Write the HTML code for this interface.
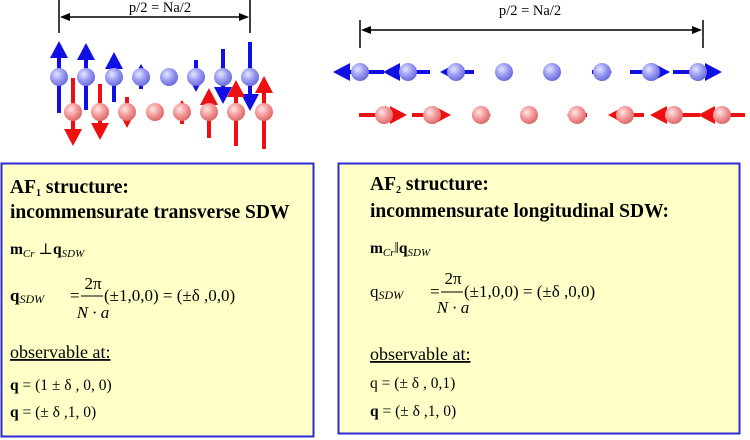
<!DOCTYPE html>
<html><head><meta charset="utf-8"><style>
html,body{margin:0;padding:0;background:#fff}
svg{display:block}
text{font-family:"Liberation Serif","DejaVu Serif",serif;fill:#000}
.t{font-weight:bold;font-size:19.5px}
</style></head><body>
<svg width="750" height="440" viewBox="0 0 750 440" xmlns="http://www.w3.org/2000/svg">
<defs>
<radialGradient id="gb" cx="0.38" cy="0.35" r="0.7"><stop offset="0" stop-color="#e6e6ff"/><stop offset="0.5" stop-color="#9a9cf2"/><stop offset="1" stop-color="#6466d8"/></radialGradient>
<radialGradient id="gr" cx="0.38" cy="0.35" r="0.7"><stop offset="0" stop-color="#ffe6e6"/><stop offset="0.5" stop-color="#f49a9a"/><stop offset="1" stop-color="#d86464"/></radialGradient>
</defs>
<g stroke="#000" stroke-width="1.5" fill="none">
<line x1="59" y1="0" x2="59" y2="33"/><line x1="250" y1="0" x2="250" y2="33"/>
<line x1="62" y1="17" x2="247" y2="17"/>
<line x1="360" y1="20" x2="360" y2="48"/><line x1="703" y1="20" x2="703" y2="48"/>
<line x1="363" y1="30" x2="700" y2="30"/>
</g>
<path d="M60,17l10,-4v8z M249,17l-10,-4v8z M361,30l10,-4v8z M702,30l-10,-4v8z" fill="#000"/>
<rect x="115" y="0" width="90" height="14" fill="#fff"/>
<text x="160" y="12" font-size="14.5" text-anchor="middle">p/2 = Na/2</text>
<text x="530" y="15" font-size="14.5" text-anchor="middle">p/2 = Na/2</text>
<g id="arrows"></g>
<rect x="1.5" y="163.5" width="312" height="273" fill="#ffffc8" stroke="#2b2bd6" stroke-width="2"/>
<rect x="338.5" y="163.5" width="401" height="270" fill="#ffffc8" stroke="#2b2bd6" stroke-width="2"/>
<g>
<text class="t" x="10" y="193">AF<tspan font-size="10" dy="3">1</tspan><tspan dy="-3"> structure:</tspan></text>
<text class="t" x="10" y="218">incommensurate transverse SDW</text>
<text x="10" y="254" font-size="15.5"><tspan font-weight="bold">m</tspan><tspan font-size="11" font-style="italic" dy="3">Cr</tspan><tspan dy="-3"> ⊥</tspan><tspan font-weight="bold">q</tspan><tspan font-size="11" font-style="italic" dy="3">SDW</tspan></text>
<text x="10" y="301" font-size="17"><tspan font-weight="bold">q</tspan><tspan font-size="12" font-style="italic" dy="2">SDW</tspan></text>
<text x="70" y="301" font-size="17">=</text>
<line x1="81" y1="296" x2="103" y2="296" stroke="#000" stroke-width="1"/>
<text x="93" y="289" font-size="17" text-anchor="middle">2π</text>
<text x="93" y="318" font-size="17" text-anchor="middle" font-style="italic">N · a</text>
<text x="104" y="301" font-size="17">(±1,0,0) = (±δ ,0,0)</text>
<text x="10" y="358" font-size="18" text-decoration="underline">observable at:</text>
<text x="10" y="390" font-size="15.5"><tspan font-weight="bold">q</tspan> = (1 ± δ , 0, 0)</text>
<text x="10" y="417" font-size="15.5"><tspan font-weight="bold">q</tspan> = (± δ ,1, 0)</text>
</g>
<g>
<text class="t" x="370" y="190">AF<tspan font-size="10" dy="3">2</tspan><tspan dy="-3"> structure:</tspan></text>
<text class="t" x="370" y="217">incommensurate longitudinal SDW:</text>
<text x="370" y="253" font-size="15.5"><tspan font-weight="bold">m</tspan><tspan font-size="11" font-style="italic" dy="3">Cr</tspan><tspan dy="-3">‖</tspan><tspan font-weight="bold">q</tspan><tspan font-size="11" font-style="italic" dy="3">SDW</tspan></text>
<text x="370" y="297" font-size="17">q<tspan font-size="12" font-style="italic" dy="2">SDW</tspan></text>
<text x="430" y="297" font-size="17">=</text>
<line x1="441" y1="292" x2="463" y2="292" stroke="#000" stroke-width="1"/>
<text x="453" y="284" font-size="17" text-anchor="middle">2π</text>
<text x="453" y="313" font-size="17" text-anchor="middle" font-style="italic">N · a</text>
<text x="464" y="297" font-size="17">(±1,0,0) = (±δ ,0,0)</text>
<text x="370" y="360" font-size="18" text-decoration="underline">observable at:</text>
<text x="370" y="388" font-size="15.5">q = (± δ , 0,1)</text>
<text x="370" y="416" font-size="15.5"><tspan font-weight="bold">q</tspan> = (± δ ,1, 0)</text>
</g>
</svg>
<script>
(function(){
var g=document.getElementById('arrows'),h='';
function arr(x1,y1,x2,y2,c,hl,hw){var dx=x2-x1,dy=y2-y1,L=Math.sqrt(dx*dx+dy*dy);if(L<1)return '';var ux=dx/L,uy=dy/L;hl=Math.min(hl,L*0.6);var bx=x2-ux*hl,by=y2-uy*hl,px=-uy*hw/2,py=ux*hw/2;
return '<line x1="'+x1+'" y1="'+y1+'" x2="'+bx+'" y2="'+by+'" stroke="'+c+'" stroke-width="4"/><path d="M'+x2+','+y2+'L'+(bx+px)+','+(by+py)+'L'+(bx-px)+','+(by-py)+'z" fill="'+c+'"/>';}
function sph(x,y,f){return '<circle cx="'+x+'" cy="'+y+'" r="9" fill="url(#'+f+')"/>';}
var B='#1010e6',R='#ee1010';
var lb=[[59,113,41],[86,110,43],[114,102,52],[141,89,64],[169,77,77],[196,60,92],[223,49,104],[250,42,111]];
lb.forEach(function(a){h+=arr(a[0],a[1],a[0],a[2],B,17,18);});
lb.forEach(function(a){h+=sph(a[0],77,'gb');});
var lr=[[73,78,146],[100,84,140],[127,97,128],[155,112,112],[182,124,100],[209,138,88],[236,146,80],[264,149,76]];
lr.forEach(function(a){h+=arr(a[0],a[1],a[0],a[2],R,17,18);});
lr.forEach(function(a){h+=sph(a[0],112,'gr');});
var rb=[[360,384,333],[408,430,383],[456,474,440],[504,510,498],[552,552,552],[602,592,612],[651,630,670],[698,673,722]];
rb.forEach(function(a){h+=arr(a[1],72,a[2],72,B,17,18);});
rb.forEach(function(a){h+=sph(a[0],72,'gb');});
var rr=[[384,359,407],[432,412,451],[481,472,491],[529,529,529],[577,587,567],[625,644,608],[674,700,650],[722,745,698]];
rr.forEach(function(a){h+=arr(a[1],115,a[2],115,R,17,18);});
rr.forEach(function(a){h+=sph(a[0],115,'gr');});
g.innerHTML=h;
})();
</script>
</body></html>
